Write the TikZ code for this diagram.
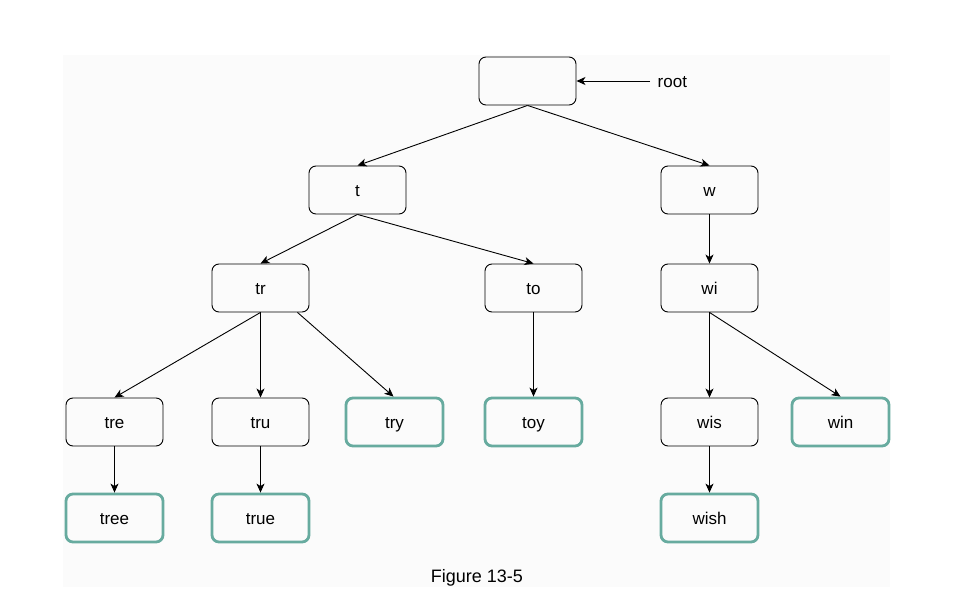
\documentclass[tikz,border=0pt]{standalone}
\usepackage{fontspec}
\setmainfont{Liberation Sans}
\usetikzlibrary{arrows.meta}
\definecolor{tealc}{HTML}{67AB9F}
\definecolor{bgc}{HTML}{FBFBFB}
\begin{document}
\begin{tikzpicture}[x=1pt,y=-1pt,
  lbl/.style={font=\fontsize{17}{19}\selectfont},
  box/.style={lbl,draw=black,line width=0.9pt,rounded corners=7pt,minimum width=97pt,minimum height=48pt,inner sep=0pt,text height=13pt,text depth=1pt},
  leaf/.style={box,draw=tealc,line width=2.8pt},
  arr/.style={-{Stealth[length=9pt,width=8pt,inset=2.5pt]},line width=0.9pt}]
\useasboundingbox (0,0) rectangle (961,591);
\fill[bgc] (63,55) rectangle (890,587);
\node[box] (root) at (527.5,81) {};
\node[box] (t) at (357.5,190) {t};
\node[box] (w) at (709.5,190) {w};
\node[box] (tr) at (260.5,288) {tr};
\node[box] (to) at (533.5,288) {to};
\node[box] (wi) at (709.5,288) {wi};
\node[box] (tre) at (114.5,422) {tre};
\node[box] (tru) at (260.5,422) {tru};
\node[leaf] (try) at (394.5,422) {try};
\node[leaf] (toy) at (533.5,422) {toy};
\node[box] (wis) at (709.5,422) {wis};
\node[leaf] (win) at (840.5,422) {win};
\node[leaf] (tree) at (114.5,518) {tree};
\node[leaf] (true) at (260.5,518) {true};
\node[leaf] (wish) at (709.5,518) {wish};
\node[lbl,anchor=west,inner sep=0pt,text height=13pt,text depth=1pt] (rootlbl) at (657.5,82) {root};
\node[font=\fontsize{18}{20}\selectfont,inner sep=0pt,text height=13pt,text depth=1pt] (cap) at (477,576) {Figure 13-5};
\coordinate (rs) at (650,81);
\draw[arr] (rs) -- (root.east);
\draw[arr] (root.south) -- (t.north);
\draw[arr] (root.south) -- (w.north);
\draw[arr] (t.south) -- (tr.north);
\draw[arr] (t.south) -- (to.north);
\draw[arr] (w.south) -- (wi.north);
\draw[arr] (tr.south) -- (tre.north);
\draw[arr] (tr.south) -- (tru.north);
\draw[arr] ([xshift=37pt]tr.south) -- ([xshift=-1pt]try.north);
\draw[arr] (to.south) -- (toy.north);
\draw[arr] (wi.south) -- (wis.north);
\draw[arr] (wi.south) -- (win.north);
\draw[arr] (tre.south) -- (tree.north);
\draw[arr] (tru.south) -- (true.north);
\draw[arr] (wis.south) -- (wish.north);
\end{tikzpicture}
\end{document}
